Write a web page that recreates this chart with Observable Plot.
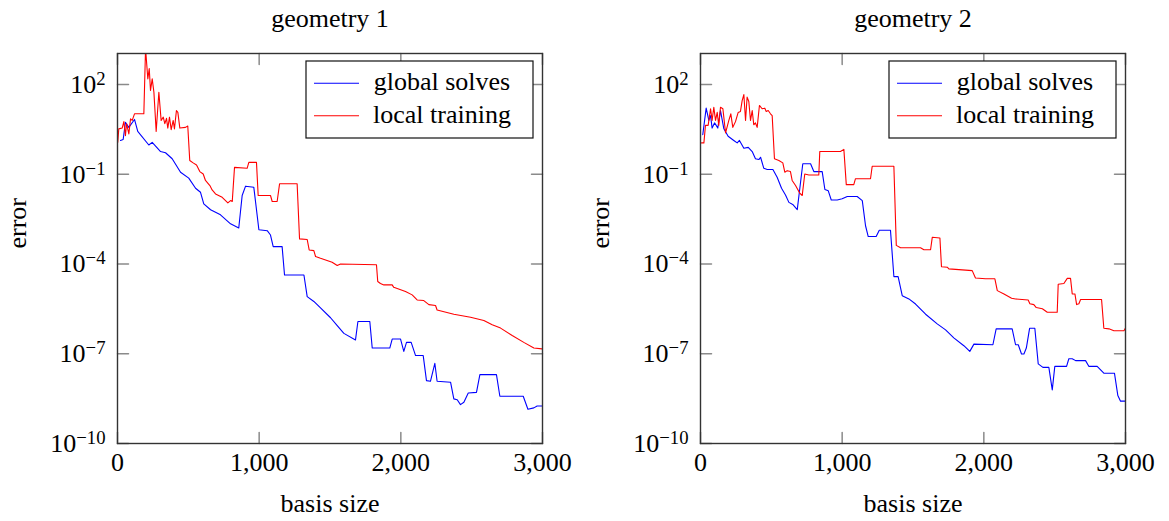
<!DOCTYPE html>
<html>
<head>
<meta charset="utf-8">
<script src="https://cdn.jsdelivr.net/npm/d3@7"></script>
<script src="https://cdn.jsdelivr.net/npm/@observablehq/plot@0.6"></script>
<style>
  html, body { margin: 0; padding: 0; background: #fff; }
  #chart { position: relative; width: 1169px; height: 521px; background: #fff; }
  #chart svg { position: absolute; top: 0; }
</style>
</head>
<body>
<div id="chart"></div>
<script>
// ---- tick values ----
const xTicks = [0, 1000, 2000, 3000];
const yTicks = [1e-10, 1e-7, 1e-4, 1e-1, 1e2];
const titles = ["geometry 1", "geometry 2"];
const seriesNames = ["global solves", "local training"];
const xLabel = "basis size";
const yLabel = "error";

// ---- geometry 1: global solves ----
const g1GlobalX = [21,40,56,80,120,143,221,245,304,339,386,445,503,551,586,609,657,727,798,856,880,904,962,998,1057,1080,1099,1162,1179,1316,1339,1386,1433,1504,1551,1598,1680,1697,1781,1798,1922,1939,1998,2021,2040,2073,2104,2158,2181,2209,2240,2256,2351,2374,2398,2421,2445,2476,2534,2558,2675,2699,2864,2897,2939,2962,3000];
const g1GlobalErr = [1.35,1.45,5.5,3.7,6.8,2.7,0.95,1.17,0.575,0.525,0.33,0.117,0.074,0.034,0.025,0.0102,0.0065,0.0044,0.0022,0.0016,0.0195,0.04,0.037,0.0014,0.0013,0.00093,0.00038,0.00038,4.3e-5,4.3e-5,8.1e-6,5.6e-6,3.4e-6,1.6e-6,8.7e-7,4.8e-7,2.9e-7,1.2e-6,1.2e-6,1.55e-7,1.55e-7,3.1e-7,3.1e-7,1.2e-7,2.4e-7,2.4e-7,8.7e-8,8.7e-8,1.26e-8,1.2e-8,4.8e-8,1.2e-8,1.12e-8,3.1e-9,2.9e-9,2.0e-9,2.4e-9,4.9e-9,5.1e-9,2.0e-8,2.0e-8,3.8e-9,3.8e-9,1.4e-9,1.55e-9,1.8e-9,1.8e-9];

// ---- geometry 1: local training ----
const g1LocalX = [2,9,33,45,56,64,80,92,104,120,186,198,214,224,233,245,257,273,292,308,323,334,346,355,367,379,393,402,416,426,440,480,496,510,534,558,581,605,621,652,668,692,739,779,798,810,826,915,927,981,993,1080,1092,1127,1144,1268,1285,1339,1353,1386,1398,1433,1515,1551,1574,1828,1837,1856,1880,1939,1950,2033,2080,2115,2162,2198,2245,2256,2374,2492,2586,2645,2704,2786,2868,2939,3000];
const g1LocalErr = [1.17,3.3,3.5,5.75,1.95,4.9,2.24,7.1,6.3,10.5,10.5,1600,155,340,63,155,55,2.7,55,6.3,8.1,4.9,7.4,3.5,8.1,3.1,6.3,3.3,13.5,11.7,3.5,3.7,4.1,0.29,0.24,0.204,0.123,0.102,0.062,0.042,0.030,0.022,0.017,0.011,0.0132,0.0123,0.17,0.158,0.25,0.25,0.0195,0.0195,0.0123,0.0123,0.048,0.048,0.00069,0.00066,0.000295,0.00028,0.000178,0.000155,0.000115,8.9e-5,1.0e-4,9.5e-5,2.6e-5,2.24e-5,2.0e-5,2.0e-5,1.66e-5,1.2e-5,9.3e-6,6.3e-6,6.0e-6,4.4e-6,4.1e-6,2.9e-6,2.1e-6,1.66e-6,1.29e-6,9.3e-7,7.2e-7,4.1e-7,2.4e-7,1.55e-7,1.45e-7];

// ---- geometry 2: global solves ----
const g2GlobalX = [16,40,59,71,82,99,111,122,141,165,195,235,259,275,306,337,365,388,412,424,447,471,511,541,572,600,624,654,683,722,777,800,859,878,902,923,965,1000,1036,1106,1142,1165,1184,1240,1262,1341,1365,1395,1424,1471,1518,1589,1671,1730,1788,1859,1901,1930,2064,2087,2200,2224,2243,2266,2283,2300,2323,2360,2384,2417,2459,2483,2501,2584,2600,2624,2648,2718,2741,2800,2847,2922,2946,2965,3000];
const g2GlobalErr = [2.1,16.2,6.3,9.1,3.5,5.2,4.3,3.5,13.5,3.3,1.86,1.35,1.12,1.35,0.74,0.79,0.575,0.33,0.31,0.37,0.158,0.145,0.145,0.079,0.034,0.0204,0.0115,0.0095,0.0066,0.224,0.224,0.123,0.123,0.031,0.028,0.0138,0.0138,0.0151,0.018,0.018,0.0132,0.0019,0.00083,0.00083,0.00135,0.00135,3.8e-5,3.8e-5,8.7e-6,6.8e-6,4.6e-6,2.1e-6,1.0e-6,6.3e-7,3.4e-7,1.86e-7,1.2e-7,2.1e-7,2.0e-7,6.8e-7,6.8e-7,2.0e-7,2.0e-7,9.8e-8,9.8e-8,1.55e-7,7.1e-7,7.1e-7,4.6e-8,3.5e-8,3.5e-8,6.2e-9,3.8e-8,3.8e-8,6.8e-8,6.8e-8,5.9e-8,5.9e-8,3.8e-8,3.8e-8,2.24e-8,2.24e-8,4.0e-9,2.6e-9,2.6e-9];

// ---- geometry 2: local training ----
const g2LocalX = [7,24,35,54,71,82,94,106,118,129,141,158,177,200,214,228,247,266,282,294,306,318,329,341,353,365,376,388,400,416,435,454,464,478,494,506,522,553,581,595,612,635,647,671,699,718,736,765,835,842,988,1012,1029,1082,1094,1200,1212,1365,1382,1412,1553,1577,1624,1636,1690,1701,1742,1753,1824,1918,1941,2012,2078,2095,2142,2196,2224,2313,2325,2353,2370,2413,2448,2518,2525,2565,2589,2612,2624,2643,2655,2671,2683,2831,2847,2883,2918,2989,3000];
const g2LocalErr = [1.12,1.12,4.3,4.3,15.5,6.3,17.4,6.3,11.7,4.3,17.4,15.5,2.4,6.3,10.5,3.7,5.75,11.7,12.6,29,46,6.3,38,27,6.3,13.5,4.5,5.2,3.7,20,15.5,16.2,12.6,13.5,10.5,9.1,0.33,0.29,0.24,0.117,0.132,0.123,0.062,0.042,0.024,0.0195,0.102,0.095,0.095,0.575,0.575,0.68,0.045,0.045,0.071,0.071,0.186,0.186,0.00042,0.00035,0.00035,0.0003,0.0003,0.00078,0.00074,8.1e-5,7.8e-5,6.9e-5,6.5e-5,6.0e-5,3.4e-5,3.2e-5,3.2e-5,1.29e-5,1.0e-5,7.2e-6,6.8e-6,6.3e-6,4.7e-6,4.4e-6,3.5e-6,3.2e-6,2.45e-6,2.45e-6,2.1e-5,2.24e-5,3.3e-5,3.3e-5,1.0e-5,1.0e-5,4.4e-6,4.7e-6,6.5e-6,6.5e-6,7.1e-7,6.8e-7,5.9e-7,5.9e-7,7.2e-7];

const FONT = "'Liberation Serif', 'DejaVu Serif', serif";
const FS = 26;
const tickShape = { draw(ctx, l) { ctx.moveTo(0, 0); ctx.lineTo(0, -l); } };
const TICK = "#8a8a8a";

function panel(title, gx, gy, lx, ly, left, width, marginLeft, marginRight) {
  const svg = Plot.plot({
    width, height: 521,
    marginLeft, marginRight, marginTop: 53, marginBottom: 78,
    x: { domain: [0, 3000] },
    y: { type: "log", domain: [1e-10, 1089] },
    style: { fontFamily: FONT, fontSize: FS + "px", background: "white", color: "black", overflow: "visible" },
    marks: [
      Plot.line(gx, { x: gx, y: gy, stroke: "#0000ff", strokeWidth: 1.1, clip: true }),
      Plot.line(lx, { x: lx, y: ly, stroke: "#ff0000", strokeWidth: 1.1, clip: true }),
      Plot.vector(xTicks, { x: d => d, frameAnchor: "bottom", rotate: 0, length: 11, anchor: "start", shape: tickShape, stroke: TICK }),
      Plot.vector(xTicks, { x: d => d, frameAnchor: "top", rotate: 180, length: 11, anchor: "start", shape: tickShape, stroke: TICK }),
      Plot.vector(yTicks, { y: d => d, frameAnchor: "left", rotate: 90, length: 11, anchor: "start", shape: tickShape, stroke: TICK }),
      Plot.vector(yTicks, { y: d => d, frameAnchor: "right", rotate: -90, length: 11, anchor: "start", shape: tickShape, stroke: TICK }),
      Plot.frame({ stroke: "#333", strokeWidth: 1.4 }),
      Plot.axisX({ ticks: xTicks, tickSize: 0, tickPadding: 9, tickFormat: d3.format(","), label: null, fontSize: FS }),
      Plot.axisY({ ticks: yTicks, tickSize: 0, tickPadding: 12, tickFormat: d => "10^" + Math.round(Math.log10(d)), label: null, fontSize: FS }),
      Plot.text([title], { frameAnchor: "top", lineAnchor: "middle", dy: -35, text: d => d, fontSize: FS }),
      Plot.text([xLabel], { frameAnchor: "bottom", lineAnchor: "middle", dy: 60, text: d => d, fontSize: FS }),
      Plot.text([yLabel], { frameAnchor: "left", dx: -100, rotate: -90, text: d => d, fontSize: FS })
    ]
  });
  svg.style.left = left + "px";

  // superscript exponents for y tick labels
  svg.querySelectorAll('[aria-label="y-axis tick label"] text').forEach(t => {
    const s = t.textContent;
    if (!s.startsWith("10^")) return;
    const e = s.slice(3).replace("-", "\u2212");
    t.textContent = "";
    const ns = "http://www.w3.org/2000/svg";
    const a = document.createElementNS(ns, "tspan");
    a.textContent = "10";
    const b = document.createElementNS(ns, "tspan");
    b.textContent = e;
    b.setAttribute("dy", "-0.42em");
    b.setAttribute("font-size", "0.72em");
    t.appendChild(a); t.appendChild(b);
  });

  // legend box (top right, inside the frame)
  const R = width - marginRight;
  const g = d3.select(svg).append("g").attr("font-family", FONT).attr("font-size", FS);
  g.append("rect").attr("x", R - 236).attr("y", 61).attr("width", 227).attr("height", 77)
    .attr("fill", "white").attr("stroke", "#111").attr("stroke-width", 1.2);
  const colors = ["#0000ff", "#ff0000"];
  const ys = [83.3, 115.7];
  seriesNames.forEach((n, i) => {
    g.append("line").attr("x1", R - 228).attr("x2", R - 183).attr("y1", ys[i]).attr("y2", ys[i])
      .attr("stroke", colors[i]).attr("stroke-width", 1.1);
    g.append("text").attr("x", R - 100).attr("y", ys[i] + 7).attr("text-anchor", "middle")
      .attr("fill", "black").text(n);
  });
  return svg;
}

const chart = document.getElementById("chart");
chart.appendChild(panel(titles[0], g1GlobalX, g1GlobalErr, g1LocalX, g1LocalErr, 0, 584, 117, 42));
chart.appendChild(panel(titles[1], g2GlobalX, g2GlobalErr, g2LocalX, g2LocalErr, 584, 585, 116, 44));
</script>
</body>
</html>
